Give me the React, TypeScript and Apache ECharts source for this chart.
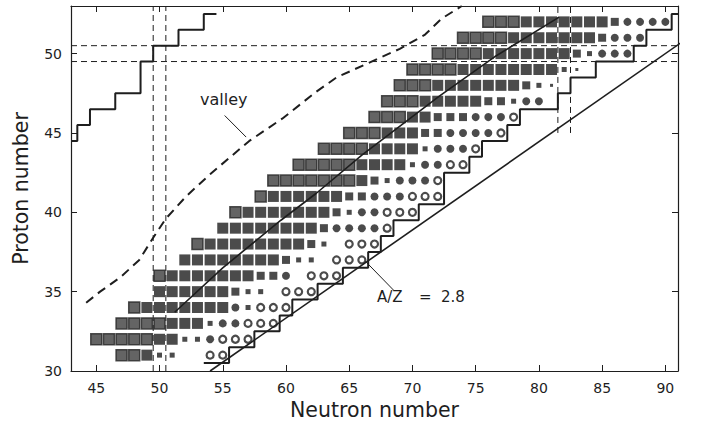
import React, { useEffect, useRef } from "react";
import * as echarts from "echarts";

// ---------- data ----------
const protonNumbers = [31, 32, 33, 34, 35, 36, 37, 38, 39, 40, 41, 42, 43, 44, 45, 46, 47, 48, 49, 50, 51, 52];
// first neutron number of each row
const rowFirstNeutron = [47, 45, 47, 48, 50, 50, 52, 53, 55, 56, 58, 59, 61, 63, 65, 67, 68, 69, 70, 72, 74, 76];
// T = known (grey) square, B = black square, M = medium square, S = small square,
// X = tiny square, F = filled circle, O = open circle, . = empty
const rowCodes = [
  "TTBSS..OO",
  "TTTTTBBSSFOOO",
  "TTTTBBBSFFOOO",
  "TBBBBBBBFSOOO",
  "BBBBBBMSS.OOO",
  "TBBBBBBBMMF.OOO",
  "BBBBBBBBMSS.OOO",
  "TBBBBBBBBMS.OOO",
  "BBBBBBBBMFFFFO",
  "TBBBBBBBMSFFOOO",
  "TBBBBBBMMFFFOOO",
  "TTTTTTTBMSFFFO",
  "TTTTTBBBBSFFOO",
  "TTTTBBBBSFFFO",
  "TTTBBBMMFFFFO",
  "TTTBBMMMFFFO",
  "TTTBBBBBMMSFF",
  "TTTBBBBBBBMSX",
  "TTTTBBBBBBBBSX",
  "TTTTBBBBBBBMSFFF",
  "TTTTBBBBBBBMFFF",
  "TTTBBBBBBBMFFFF",
];

// right-hand staircase: boundary neutron number for each proton number 31..52
const rightStepN = [55.5, 57.5, 59.5, 60.5, 62.5, 64.5, 66.5, 67.5, 68.5, 70.5, 72.5, 72.5, 74.5, 75.5, 77.5, 78.5, 81.5, 82.5, 84.5, 87.5, 88.5, 90.5];
const rightStepStart = [53.5, 30.5];

// left-hand staircase vertices [N, Z]
const leftStep = [
  [43, 44.5], [43.5, 44.5], [43.5, 45.5], [44.5, 45.5], [44.5, 46.5], [46.5, 46.5],
  [46.5, 47.5], [48.5, 47.5], [48.5, 49.5], [49.5, 49.5], [49.5, 50.5], [51.5, 50.5],
  [51.5, 51.5], [53.5, 51.5], [53.5, 52.5], [54.5, 52.5],
];

// "valley" dashed curve [N, Z]
const valleyCurve = [
  [44.2, 34.3], [45.3, 35.0], [46.9, 35.9], [48.4, 37.0], [49.5, 38.4], [50.5, 39.6],
  [52.1, 41.0], [54.0, 42.4], [57.1, 44.5], [59.7, 45.9], [62.4, 47.6], [64.0, 48.5],
  [66.5, 49.4], [69.0, 50.3], [71.0, 51.2], [72.3, 52.2], [73.9, 53.0],
];

// solid line through the measured region [N, Z]
const innerLine = [[51.2, 33.7], [55.0, 36.5], [59.6, 39.5], [62.4, 41.2], [66.0, 43.6], [72.1, 47.3], [76.5, 49.8], [81.6, 52.3]];

// A/Z = 2.8 line endpoints [N, Z]
const azLine = [[54, 30], [94.5, 52.5]];

// magic-number guide lines
const magicN = [49.5, 50.5];
const magicZ = [49.5, 50.5];
const magicN82 = [81.5, 82.5];

const valleyLeader = [[55.15, 46.1], [56.85, 44.74]];
const azLeader = [[66.3, 36.9], [68.5, 35.1]];

const xTicks = [45, 50, 55, 60, 65, 70, 75, 80, 85, 90];
const yTicks = [30, 35, 40, 45, 50];

// ---------- helpers ----------
function collect(code: string) {
  const pts: number[][] = [];
  protonNumbers.forEach((z, r) => {
    const s = rowCodes[r];
    for (let i = 0; i < s.length; i++) if (s[i] === code) pts.push([rowFirstNeutron[r] + i, z]);
  });
  return pts;
}

function rightStaircase() {
  const pts: number[][] = [rightStepStart.slice()];
  let y = rightStepStart[1];
  protonNumbers.forEach((z, i) => {
    const n = rightStepN[i];
    pts.push([n, z - 0.5]);
    pts.push([n, z + 0.5]);
    y = z + 0.5;
  });
  pts.push([91, y]);
  return pts;
}

const INK = "#1e1e1e";
const FONT = "DejaVu Sans";

function lineSeries(data: number[][], width: number, dash?: number[] | string) {
  return {
    type: "line",
    data,
    showSymbol: false,
    symbol: "none",
    silent: true,
    z: 5,
    lineStyle: { color: INK, width, type: dash || "solid" },
  };
}

export default function App() {
  const ref = useRef<HTMLDivElement>(null);
  useEffect(() => {
    if (!ref.current) return;
    const chart = echarts.init(ref.current, undefined, { renderer: "svg" });
    const sq = (code: string, size: number, color: string, border?: string) => ({
      type: "scatter",
      data: collect(code),
      symbol: "rect",
      symbolSize: size,
      silent: true,
      z: 3,
      itemStyle: { color, borderColor: border || color, borderWidth: border ? 1.5 : 0 },
    });
    const txt = (text: string, left: number, top: number, size: number) => ({
      type: "text", left, top, style: { text, fontSize: size, fontFamily: FONT, fill: INK },
    });
    const option: any = {
      animation: false,
      backgroundColor: "#ffffff",
      grid: { left: 71, right: 24, top: 6, bottom: 57 },
      xAxis: [
        {
          type: "value", min: 43, max: 91, position: "bottom",
          axisLine: { onZero: false, lineStyle: { color: INK, width: 1.2 } },
          axisTick: { inside: true, length: 6, customValues: xTicks, lineStyle: { color: INK } },
          axisLabel: { customValues: xTicks, color: INK, fontSize: 14, fontFamily: FONT, margin: 10 },
          splitLine: { show: false },
          name: "Neutron number", nameLocation: "middle", nameGap: 28,
          nameTextStyle: { fontSize: 20.5, fontFamily: FONT, color: INK },
        },
        {
          type: "value", min: 43, max: 91, position: "top",
          axisLine: { onZero: false, lineStyle: { color: INK, width: 1.2 } },
          axisTick: { inside: true, length: 6, customValues: xTicks, lineStyle: { color: INK } },
          axisLabel: { show: false },
          splitLine: { show: false },
        },
      ],
      yAxis: [
        {
          type: "value", min: 30, max: 53, position: "left",
          axisLine: { show: true, onZero: false, lineStyle: { color: INK, width: 1.2 } },
          axisTick: { show: true, inside: true, length: 6, customValues: yTicks, lineStyle: { color: INK } },
          axisLabel: { customValues: yTicks, color: INK, fontSize: 14, fontFamily: FONT, margin: 9 },
          splitLine: { show: false },
          name: "Proton number", nameLocation: "middle", nameGap: 40,
          nameTextStyle: { fontSize: 20.5, fontFamily: FONT, color: INK },
        },
        {
          type: "value", min: 30, max: 53, position: "right",
          axisLine: { show: true, onZero: false, lineStyle: { color: INK, width: 1.2 } },
          axisTick: { show: true, inside: true, length: 6, customValues: yTicks, lineStyle: { color: INK } },
          axisLabel: { show: false },
          splitLine: { show: false },
        },
      ],
      series: [
        sq("T", 11, "#3d3d3d", "#262626"),
        sq("B", 11, "#1e1e1e"),
        sq("M", 8, "#1e1e1e"),
        sq("S", 5, "#1e1e1e"),
        sq("X", 3, "#1e1e1e"),
        { type: "scatter", data: collect("F"), symbol: "circle", symbolSize: 8, silent: true, z: 3, itemStyle: { color: INK } },
        { type: "scatter", data: collect("O"), symbol: "circle", symbolSize: 7, silent: true, z: 3, itemStyle: { color: "#ffffff", borderColor: INK, borderWidth: 2.2 } },
        lineSeries(leftStep, 2),
        lineSeries(rightStaircase(), 2),
        lineSeries(azLine, 1.6),
        lineSeries(innerLine, 1.6),
        lineSeries(valleyCurve, 2, [9, 6]),
        ...magicN.map((n) => lineSeries([[n, 30], [n, 53]], 1, [6, 4])),
        ...magicZ.map((z) => lineSeries([[43, z], [91, z]], 1, [6, 4])),
        ...magicN82.map((n) => lineSeries([[n, 45], [n, 53]], 1, [6, 4])),
        lineSeries(valleyLeader, 1),
        lineSeries(azLeader, 1),
      ],
      graphic: [
        txt("valley", 200, 91, 16),
        txt("A/Z", 377, 289, 15),
        txt("=", 419, 289, 15),
        txt("2.8", 441, 289, 15),
      ],
    };
    chart.setOption(option);
    return () => chart.dispose();
  }, []);
  return <div ref={ref} style={{ position: "fixed", left: 0, top: 0, width: 702, height: 428, background: "#fff" }} />;
}
